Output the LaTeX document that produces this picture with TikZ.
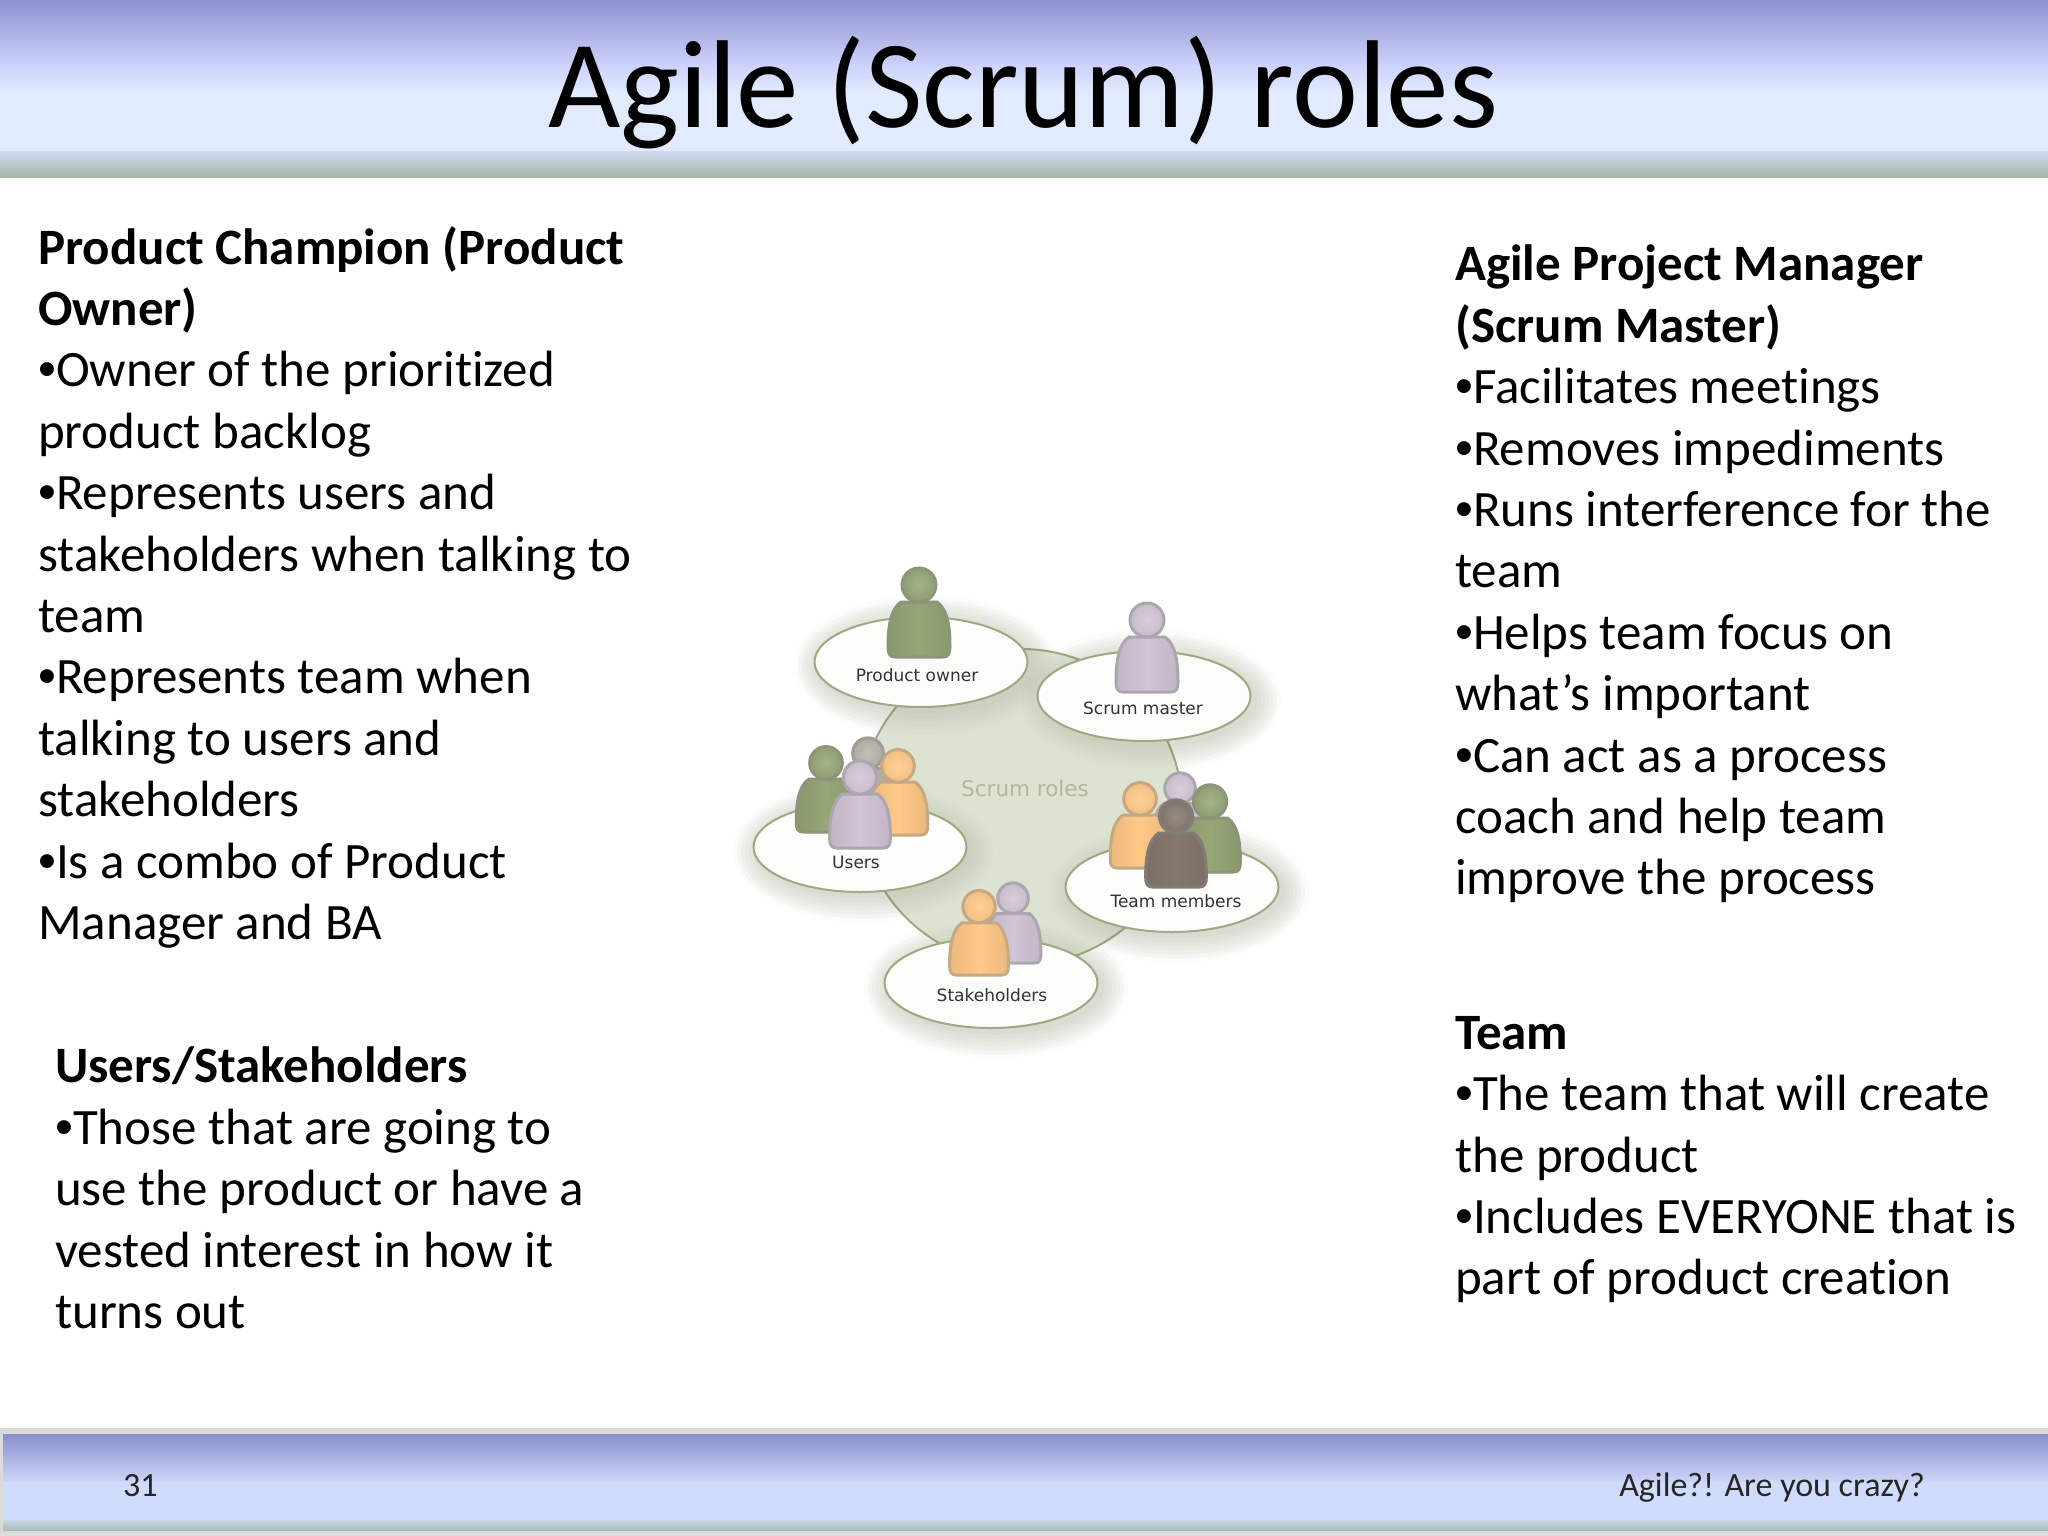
\documentclass[tikz,border=0pt]{standalone}
\usepackage{fontspec}
\setmainfont[Ligatures=NoCommon]{Carlito}
\newfontfamily\rolefont{DejaVu Sans}
\newfontfamily\dotfont{Liberation Sans}
\usetikzlibrary{shapes.geometric}
\definecolor{olive}{HTML}{96A676}
\definecolor{lilac}{HTML}{D2C6D6}
\definecolor{peach}{HTML}{FFC987}
\definecolor{umber}{HTML}{85786E}
\definecolor{stone}{HTML}{B9B4AA}
\definecolor{ringfill}{HTML}{DDE3D1}
\definecolor{ringedge}{HTML}{9DA983}
\definecolor{halo}{HTML}{B4BE9C}
\definecolor{headtop}{HTML}{8F92D0}
\definecolor{headmid}{HTML}{CDD3FB}
\definecolor{headpale}{HTML}{E2EAFE}
\definecolor{headsea}{HTML}{CDDAF0}
\definecolor{headrim}{HTML}{A8B5A5}
\definecolor{foottop}{HTML}{8890CC}
\definecolor{footmid}{HTML}{CDD6F8}
\definecolor{footpale}{HTML}{D0DCFB}
\definecolor{footsea}{HTML}{C8D6E6}
\definecolor{footrim}{HTML}{A9BCB8}
\tikzset{
    textblock/.style={anchor=north west,inner sep=0pt,align=left,text=black,font=\fontsize{51}{61.4}\selectfont},
    footertext/.style={inner sep=0pt,text=black!85,font=\fontsize{34}{40}\selectfont},
    disc/.style={ellipse,draw=ringedge,line width=2pt,fill=white!97!olive,minimum width=213pt,minimum height=90pt,inner sep=0pt},
    rolelabel/.style={inner sep=0pt,text=black!80,font=\rolefont\fontsize{17}{20}\selectfont}
}
\newcommand{\bul}{{\dotfont •}}
% one pawn figure, x y scale colour
\newcommand{\person}[4]{
    \begin{scope}[shift={(#1,#2)},scale=#3]
        \draw[line width=3pt,draw=#4!55!gray,left color=#4!92!black,right color=#4!92!black,middle color=#4]
            (-24,0) .. controls (-29,0) and (-31,-3) .. (-31,-10)
            .. controls (-31,-32) and (-28,-48) .. (-18,-55)
            -- (18,-55) .. controls (28,-48) and (31,-32) .. (31,-10)
            .. controls (31,-3) and (29,0) .. (24,0) -- cycle;
        \draw[line width=3pt,draw=#4!55!gray,inner color=#4!85!white,outer color=#4!95!black] (0,-72) circle (17);
    \end{scope}
}
\begin{document}
\begin{tikzpicture}[x=1pt,y=-1pt]
    \useasboundingbox (0,0) rectangle (2048,1536);
    \fill[white] (0,0) rectangle (2048,1536);
    % header band
    \shade[top color=headtop,bottom color=headmid] (0,0) rectangle (2048,66);
    \shade[top color=headmid,bottom color=headpale] (0,66) rectangle (2048,92);
    \fill[headpale] (0,92) rectangle (2048,152);
    \shade[top color=headsea,bottom color=headrim] (0,152) rectangle (2048,177);
    % footer band
    \fill[black!14] (0,1428) rectangle (2048,1536);
    \shade[top color=foottop,bottom color=footmid] (3,1434) rectangle (2048,1482);
    \fill[footpale] (3,1482) rectangle (2048,1520);
    \shade[top color=footsea,bottom color=footrim] (3,1520) rectangle (2048,1530);
    \node[inner sep=0pt,anchor=base,text=black,font=\fontsize{125}{130}\selectfont] (title) at (1023,128) {Agile (Scrum) roles};
    \node[footertext,anchor=base west] (pagenum) at (123,1496) {31};
    \node[footertext,anchor=base east] (footer) at (1925,1496) {Agile?! Are you crazy?};
    % text blocks
    \node[textblock] (owner) at (38,226) {\textbf{Product Champion (Product}\\\textbf{Owner)}\\
        \bul Owner of the prioritized\\product backlog\\\bul Represents users and\\
        stakeholders when talking to\\team\\\bul Represents team when\\
        talking to users and\\stakeholders\\\bul Is a combo of Product\\Manager and BA};
    \node[textblock] (users) at (55,1047) {\textbf{Users/Stakeholders}\\\bul Those that are going to\\
        use the product or have a\\vested interest in how it\\turns out};
    \node[textblock] (master) at (1455,245) {\textbf{Agile Project Manager}\\\textbf{(Scrum Master)}\\
        \bul Facilitates meetings\\\bul Removes impediments\\\bul Runs interference for the\\team\\
        \bul Helps team focus on\\what’s important\\\bul Can act as a process\\
        coach and help team\\improve the process};
    \node[textblock] (team) at (1455,1016) {\textbf{Team}\\\bul The team that will create\\
        the product\\\bul Includes EVERYONE that is\\part of product creation};
    % soft shadows
    \foreach \cx/\cy in {921/662,1144/696,860/847,1172/887,991/983}
        \foreach \grow in {2,6,...,26}
            \fill[halo,opacity=.035] (\cx+5,\cy+4) ellipse ({106+\grow} and {45+\grow});
    % ring
    \node[ellipse,draw=ringedge,line width=2pt,fill=ringfill,minimum width=322pt,minimum height=316pt,inner sep=0pt] (ring) at (1021,807) {};
    \foreach \cx/\cy in {921/662,1144/696,860/847,1172/887,991/983}
        \foreach \grow in {2,6,...,22}
            \fill[black!45!olive,opacity=.02] (\cx+5,\cy+5) ellipse ({106+\grow} and {45+\grow});
    \node[disc] (productdisc) at (921,662) {};
    \node[disc] (masterdisc) at (1144,696) {};
    \node[disc] (usersdisc) at (860,847) {};
    \node[disc] (teamdisc) at (1172,887) {};
    \node[disc] (stakedisc) at (991,983) {};
    % figures
    \person{919}{657}{1}{olive}
    \person{1147}{692}{1}{lilac}
    \person{868}{818}{.9}{stone}
    \person{826}{832}{.96}{olive}
    \person{898}{835}{.96}{peach}
    \person{860}{848}{.98}{lilac}
    \person{1180}{853}{.9}{lilac}
    \person{1140}{868}{.96}{peach}
    \person{1210}{872}{.98}{olive}
    \person{1176}{887}{.98}{umber}
    \person{1013}{963}{.9}{lilac}
    \person{979}{975}{.95}{peach}
    % labels
    \node[rolelabel] (productname) at (917,675) {Product owner};
    \node[rolelabel] (mastername) at (1143,708) {Scrum master};
    \node[rolelabel] (usersname) at (856,862) {Users};
    \node[rolelabel] (teamname) at (1176,901) {Team members};
    \node[rolelabel] (stakename) at (992,995) {Stakeholders};
    \node[rolelabel,text=ringedge!80,font=\rolefont\fontsize{21.5}{24}\selectfont] (ringname) at (1025,788) {Scrum roles};
\end{tikzpicture}
\end{document}
